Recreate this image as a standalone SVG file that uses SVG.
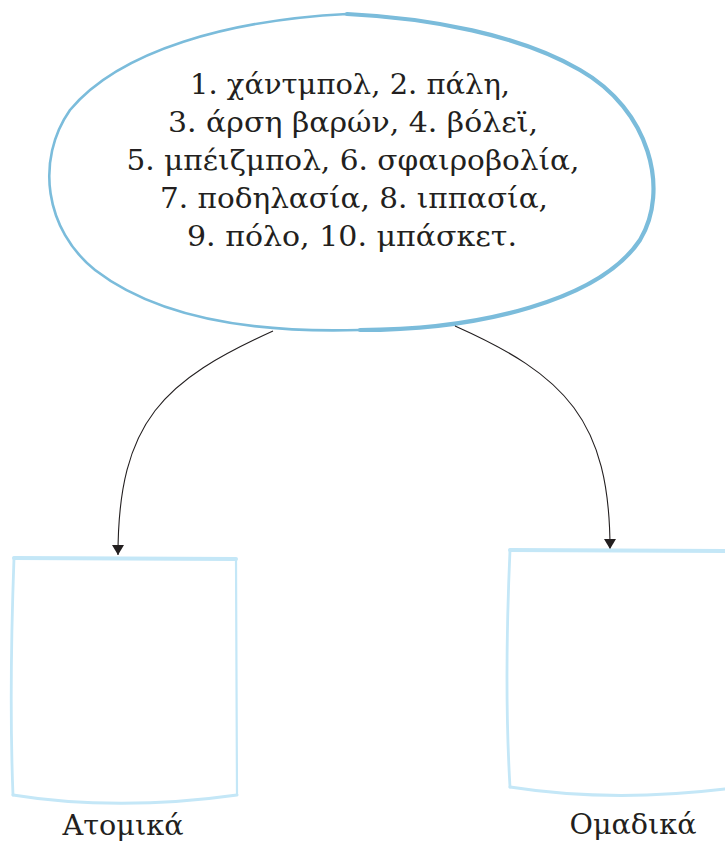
<svg xmlns="http://www.w3.org/2000/svg" width="725" height="842" viewBox="0 0 725 842">
<style>
.t{font-family:"DejaVu Serif","Liberation Serif",serif;font-size:27px;fill:#231f20;text-anchor:middle}
.bx{fill:none;stroke:#c4e7f7;stroke-linecap:round;stroke-linejoin:round}
.cn{fill:none;stroke:#231f20;stroke-width:1.1}
</style>
<defs>
<marker id="ah" viewBox="0 0 10 12" refX="10" refY="6" markerWidth="13" markerHeight="12" markerUnits="userSpaceOnUse" orient="auto">
<path d="M0,0 L10,6 L0,12 Z" fill="#231f20"/>
</marker>
</defs>
<rect width="725" height="842" fill="#fff"/>
<g id="list">
<path d="M347,14 C230,20 120,50 70,110 C35,160 45,230 95,270 C160,320 260,333 360,330 C480,330 600,300 640,240 C670,190 650,110 580,70 C520,35 430,18 347,14 Z" fill="none" stroke="#7bbcdb" stroke-width="2.6"/>
<path d="M347,14 C430,18 520,35 580,70 C650,110 670,190 640,240 C600,300 480,330 360,330" fill="none" stroke="#7bbcdb" stroke-width="4.2" stroke-linecap="round"/>
<text class="t" x="350" y="94" textLength="320" lengthAdjust="spacingAndGlyphs">1. χάντμπολ, 2. πάλη,</text>
<text class="t" x="353" y="132" textLength="370" lengthAdjust="spacingAndGlyphs">3. άρση βαρών, 4. βόλεϊ,</text>
<text class="t" x="353" y="170" textLength="453" lengthAdjust="spacingAndGlyphs">5. μπέιζμπολ, 6. σφαιροβολία,</text>
<text class="t" x="354" y="208" textLength="388" lengthAdjust="spacingAndGlyphs">7. ποδηλασία, 8. ιππασία,</text>
<text class="t" x="352" y="246" textLength="330" lengthAdjust="spacingAndGlyphs">9. πόλο, 10. μπάσκετ.</text>
</g>
<g id="connectors">
<path class="cn" d="M273,331 C165,380 118,420 118,555" marker-end="url(#ah)"/>
<path class="cn" d="M455,326 C565,375 610,420 610,549" marker-end="url(#ah)"/>
</g>
<g id="atomika">
<path class="bx" d="M14,558 L236,559" stroke-width="4"/>
<path class="bx" d="M14,558 C11,640 10,720 13,795" stroke-width="2.8"/>
<path class="bx" d="M236,559 L237,795" stroke-width="2.2"/>
<path class="bx" d="M13,795 C80,806 160,806 237,795" stroke-width="3"/>
<text class="t" x="123" y="835" font-size="28" textLength="121" lengthAdjust="spacingAndGlyphs">Ατομικά</text>
</g>
<g id="omadika">
<path class="bx" d="M510,550 L725,551" stroke-width="4"/>
<path class="bx" d="M510,550 C506,640 506,720 510,787" stroke-width="2.8"/>
<path class="bx" d="M510,787 C580,798 650,798 725,789" stroke-width="3"/>
<text class="t" x="633" y="834" font-size="28" textLength="127" lengthAdjust="spacingAndGlyphs">Ομαδικά</text>
</g>
</svg>
